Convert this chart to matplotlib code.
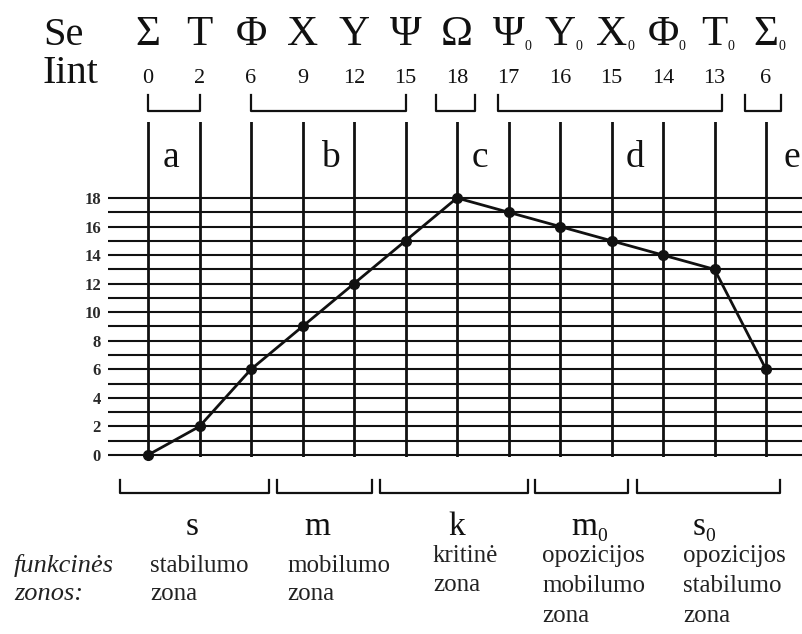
import matplotlib
matplotlib.use("Agg")
import matplotlib.pyplot as plt
from matplotlib.lines import Line2D
from matplotlib.transforms import blended_transform_factory

W, H = 802, 634
SERIF = "Liberation Serif"
INK = "#111111"

# Se series (Greek signs) and their integral intensity
se_signs = ["Σ", "Τ", "Φ", "Χ", "Υ", "Ψ", "Ω", "Ψ", "Υ", "Χ", "Φ", "Τ", "Σ"]
se_opposed = [False] * 7 + [True] * 6
iint = [0, 2, 6, 9, 12, 15, 18, 17, 16, 15, 14, 13, 6]

# groups above the grid: letter and the index span of its bracket
group_names = ["a", "b", "c", "d", "e"]
group_spans = [(0, 1), (2, 5), (5.6, 6.35), (6.8, 11.15), (11.6, 12.3)]
group_text_x = [0.45, 3.55, 6.45, 9.45, 12.5]

# functional zones below the grid
zone_symbols = ["s", "m", "k", "m", "s"]
zone_opposed = [False, False, False, True, True]
zone_spans = [(-0.54, 2.35), (2.5, 4.35), (4.5, 7.38), (7.51, 9.32), (9.5, 12.27)]
zone_text = [
    ["stabilumo", "zona"],
    ["mobilumo", "zona"],
    ["kritinė", "zona"],
    ["opozicijos", "mobilumo", "zona"],
    ["opozicijos", "stabilumo", "zona"],
]


def fx(px):
    return px / W


def fy(py):
    return 1 - py / H


fig = plt.figure(figsize=(W / 100, H / 100), dpi=100)
fig.patch.set_facecolor("white")

# grid axes: x is the position in the series, y the intensity
x0_px, step_px = 148, 51.5
y0_px, unit_px = 455, 14.28
left_px, top_px, bottom_px = 108, 122, 457
ax = fig.add_axes([fx(left_px), fy(bottom_px), 1 - fx(left_px), (bottom_px - top_px) / H])
ax.set_xlim((left_px - x0_px) / step_px, (W - x0_px) / step_px)
ax.set_ylim((y0_px - bottom_px) / unit_px, (y0_px - top_px) / unit_px)
for s in ax.spines.values():
    s.set_visible(False)
ax.set_xticks([])
ax.set_yticks(range(0, 19, 2))
ax.tick_params(axis="y", length=0, pad=5)
for lab in ax.get_yticklabels():
    lab.set_fontfamily(SERIF)
    lab.set_fontweight("bold")
    lab.set_fontsize(12)
    lab.set_color("#2a2a2a")

xs = list(range(len(iint)))
ax.hlines(range(0, 19), *ax.get_xlim(), color=INK, lw=1.5)
for x in xs:
    ax.axvline(x, color=INK, lw=2)
ax.plot(xs, iint, color=INK, lw=2, marker="o", ms=7, clip_on=False, zorder=5)

top = blended_transform_factory(ax.transData, fig.transFigure)
renderer = fig.canvas.get_renderer()


def subscript(base, text, size, baseline_px):
    bb = base.get_window_extent(renderer)
    fig.text(bb.x1 / W, fy(baseline_px), text, fontsize=size, family=SERIF,
             color=INK, ha="left", va="baseline")


# header rows
fig.text(fx(43), fy(45), "Se", fontsize=29, family=SERIF, color=INK, va="baseline")
fig.text(fx(43), fy(83), "Iint", fontsize=29, family=SERIF, color=INK, va="baseline")
for x, sign, opp, val in zip(xs, se_signs, se_opposed, iint):
    t = ax.text(x, fy(45), sign, transform=top, fontsize=31, family=SERIF,
                color=INK, ha="center", va="baseline")
    if opp:
        subscript(t, "0", 10, 50)
    ax.text(x, fy(83), str(val), transform=top, fontsize=16, family=SERIF,
            color=INK, ha="center", va="baseline")

# group brackets and letters
for (a, b), name, tx in zip(group_spans, group_names, group_text_x):
    ax.add_line(Line2D([a, a, b, b], [fy(95), fy(111), fy(111), fy(95)],
                       transform=top, color=INK, lw=1.6, clip_on=False))
    ax.text(tx, fy(167), name, transform=top, fontsize=27, family=SERIF,
            color=INK, ha="center", va="baseline")

# zone brackets
for a, b in zone_spans:
    ax.add_line(Line2D([a, a, b, b], [fy(480), fy(493), fy(493), fy(480)],
                       transform=top, color=INK, lw=1.6, clip_on=False))

sym_x = [192, 317, 457, 584, 699]
desc_x = [150, 287, 433, 542, 683]
desc_top = [572, 572, 562, 562, 562]
desc_step = [28, 28, 29, 30, 30]
for sym, opp, sx, dx, dt, step, lines in zip(zone_symbols, zone_opposed, sym_x, desc_x,
                                             desc_top, desc_step, zone_text):
    t = fig.text(fx(sx), fy(535), sym, fontsize=24, family=SERIF, color=INK,
                 ha="center", va="baseline")
    if opp:
        subscript(t, "0", 14, 541)
    for i, line in enumerate(lines):
        fig.text(fx(dx), fy(dt + step * i), line, fontsize=18, family=SERIF,
                 color="#222222", va="baseline")

fig.text(fx(14), fy(572), "funkcinės", fontsize=19, family=SERIF, style="italic",
         color="#222222", va="baseline")
fig.text(fx(14), fy(600), "zonos:", fontsize=19, family=SERIF, style="italic",
         color="#222222", va="baseline")

fig.savefig("out.png", dpi=100)
